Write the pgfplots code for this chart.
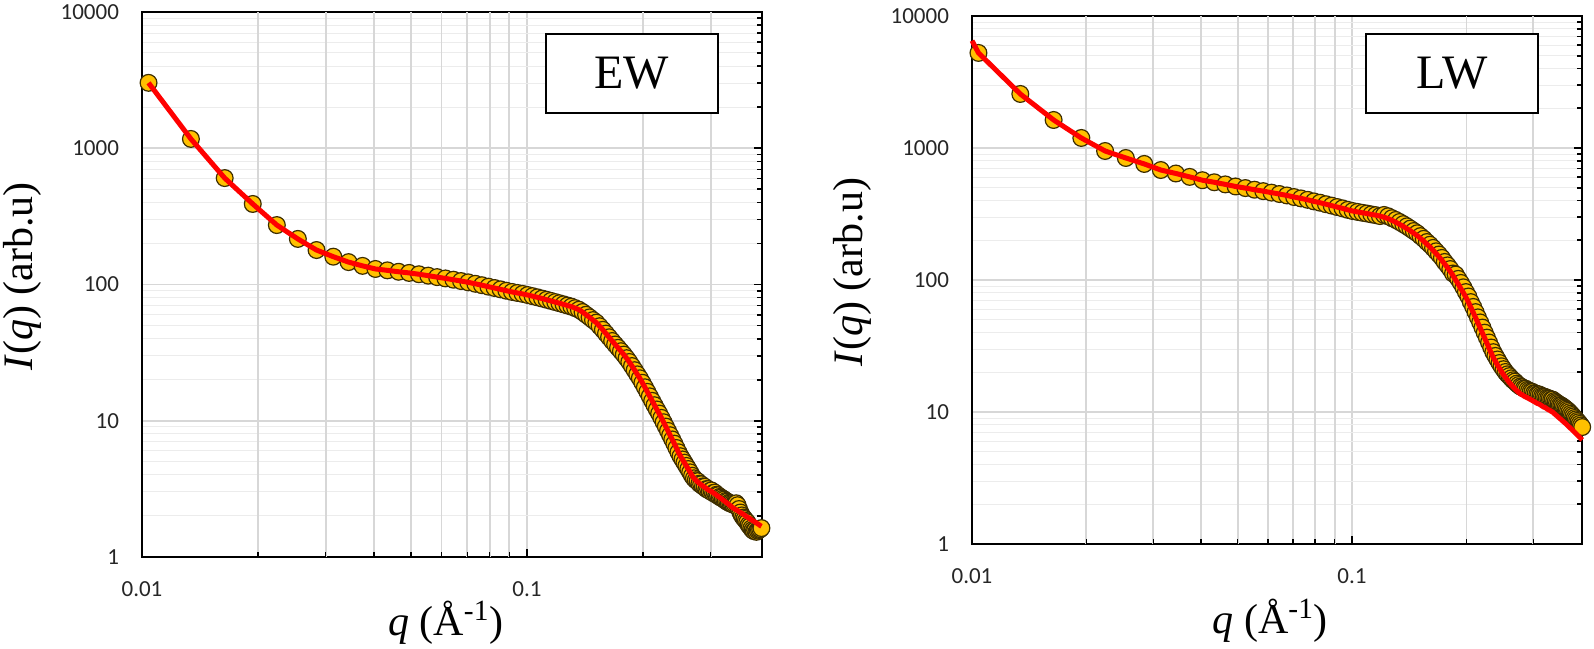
\documentclass[border=0pt]{standalone}
\usepackage{fontspec}
\setmainfont{Liberation Serif}
\newfontfamily\tickfont{Carlito}
\usepackage{pgfplots}
\usepackage{pgfplotstable}
\pgfplotsset{compat=1.18}
\definecolor{gold}{RGB}{255,192,0}
\definecolor{edgec}{RGB}{60,45,0}
\definecolor{gridc}{RGB}{215,215,215}
\definecolor{mgridc}{RGB}{236,236,236}

\pgfplotstableread{
q fit data
0.0104 3020 3020
0.0134 1170 1170
0.0164 604 604
0.0194 390 390
0.0224 273 273
0.0254 216 216
0.0284 179 179
0.0314 160 160
0.0344 146 146
0.0374 137 137
0.0404 130 130
0.0434 127 127
0.0464 124 124
0.0494 121.6 121.6
0.0524 118.9 118.9
0.0554 116.1 116.1
0.0584 113.3 113.3
0.0614 110.8 110.8
0.0644 108.4 108.4
0.0674 106.0 106.0
0.0704 103.7 103.7
0.0734 101.2 101.2
0.0764 98.8 98.8
0.0794 96.4 96.4
0.0824 94.2 94.2
0.0854 92.1 92.1
0.0884 90.0 90.0
0.0914 88.2 88.2
0.0944 86.7 86.7
0.0974 85.3 85.3
0.1004 83.7 83.7
0.1034 82.1 82.1
0.1064 80.5 80.5
0.1094 78.9 78.9
0.1124 77.3 77.3
0.1154 75.8 75.8
0.1184 74.3 74.3
0.1214 72.9 72.9
0.1244 71.5 71.5
0.1274 70.1 70.1
0.1304 68.8 68.8
0.1334 67.1 67.1
0.1364 65.3 65.3
0.1394 62.8 62.8
0.1424 60.0 60.0
0.1454 57.4 57.4
0.1484 54.8 54.8
0.1514 52.5 52.5
0.1544 49.4 49.4
0.1574 46.5 46.5
0.1604 43.6 43.6
0.1634 41.0 41.0
0.1664 38.5 38.5
0.1694 36.3 36.3
0.1724 34.3 34.3
0.1754 32.4 32.4
0.1784 30.6 30.6
0.1814 28.8 28.8
0.1844 27.0 27.0
0.1874 25.2 25.2
0.1904 23.5 23.5
0.1934 21.9 21.9
0.1964 20.5 20.5
0.1994 19.0 19.0
0.2024 17.6 17.6
0.2054 16.3 16.3
0.2084 15.1 15.1
0.2114 14.0 14.0
0.2144 13.0 13.0
0.2174 12.1 12.1
0.2204 11.3 11.3
0.2234 10.5 10.5
0.2264 9.75 9.75
0.2294 9.06 9.06
0.2324 8.42 8.42
0.2354 7.83 7.83
0.2384 7.29 7.29
0.2414 6.79 6.79
0.2444 6.31 6.31
0.2474 5.87 5.87
0.2504 5.49 5.49
0.2534 5.20 5.20
0.2564 4.92 4.92
0.2594 4.66 4.66
0.2624 4.42 4.42
0.2654 4.18 4.18
0.2684 3.95 3.95
0.2714 3.78 3.78
0.2744 3.66 3.66
0.2774 3.56 3.60
0.2804 3.47 3.45
0.2834 3.39 3.42
0.2864 3.32 3.30
0.2894 3.25 3.28
0.2924 3.18 3.15
0.2954 3.12 3.15
0.2984 3.06 3.05
0.3014 3.03 3.08
0.3044 2.96 2.95
0.3074 2.91 2.97
0.3104 2.85 2.86
0.3134 2.79 2.84
0.3164 2.74 2.76
0.3194 2.69 2.73
0.3224 2.63 2.68
0.3254 2.58 2.64
0.3284 2.53 2.58
0.3314 2.48 2.55
0.3344 2.43 2.50
0.3374 2.38 2.48
0.3404 2.33 2.45
0.3434 2.29 2.42
0.3464 2.25 2.44
0.3494 2.22 2.48
0.3524 2.19 2.40
0.3554 2.15 2.25
0.3584 2.12 2.12
0.3614 2.09 2.02
0.3644 2.06 1.95
0.3674 2.03 1.90
0.3704 1.99 1.84
0.3734 1.96 1.80
0.3764 1.94 1.72
0.3794 1.91 1.68
0.3824 1.88 1.62
0.3854 1.85 1.58
0.3884 1.83 1.55
0.3914 1.80 1.57
0.3944 1.78 1.53
0.3974 1.75 1.56
0.4004 1.73 1.58
0.4034 1.70 1.60
0.4064 1.68 1.63
}\ewtable

\pgfplotstableread{
q fit data
0.0100 6500 nan
0.0104 5250 5250
0.0134 2566 2566
0.0164 1630 1630
0.0194 1191 1191
0.0224 949 949
0.0254 840 840
0.0284 757 757
0.0314 681 681
0.0344 641 641
0.0374 604 604
0.0404 570 570
0.0434 550 550
0.0464 530 530
0.0494 511 511
0.0524 497 497
0.0554 483 483
0.0584 471 471
0.0614 459 459
0.0644 448 448
0.0674 437 437
0.0704 425 425
0.0734 415 415
0.0764 405 405
0.0794 394 394
0.0824 385 385
0.0854 375 375
0.0884 366 366
0.0914 357 357
0.0944 349 349
0.0974 340 340
0.1004 333 333
0.1034 328 328
0.1064 323 323
0.1094 319 319
0.1124 314 314
0.1154 310 310
0.1184 305 305
0.1214 299 311
0.1244 292 304
0.1274 283 294
0.1304 274 285
0.1334 264 275
0.1364 255 265
0.1394 245 255
0.1424 236 245
0.1454 226 235
0.1484 217 226
0.1514 207 215
0.1544 197 205
0.1574 187 194
0.1604 178 185
0.1634 168 175
0.1664 159 165
0.1694 150 156
0.1724 141 147
0.1754 132 137
0.1784 124 129
0.1814 116 121
0.1844 108 112
0.1874 100 110
0.1904 93 102
0.1934 86 95
0.1964 80 88
0.1994 74 81
0.2024 68 75
0.2054 62 68
0.2084 56.8 62.5
0.2114 51.9 57.1
0.2144 47.4 52.1
0.2174 43.4 47.7
0.2204 39.6 43.6
0.2234 36.3 39.9
0.2264 33.3 36.6
0.2294 30.5 33.6
0.2324 28.0 30.8
0.2354 25.8 28.4
0.2384 24.2 26.6
0.2414 22.7 25.0
0.2444 21.4 23.5
0.2474 20.2 22.2
0.2504 19.2 21.1
0.2534 18.3 20.1
0.2564 17.5 19.3
0.2594 16.7 18.7
0.2624 16.1 18.0
0.2654 15.5 17.4
0.2684 15.0 17.0
0.2714 14.5 16.4
0.2744 14.1 16.0
0.2774 13.7 15.6
0.2804 13.5 15.4
0.2834 13.2 15.1
0.2864 13.0 15.0
0.2894 12.8 14.7
0.2924 12.6 14.5
0.2954 12.4 14.3
0.2984 12.2 14.2
0.3014 12.0 13.9
0.3044 11.8 13.8
0.3074 11.6 13.6
0.3104 11.5 13.6
0.3134 11.3 13.4
0.3164 11.1 13.2
0.3194 10.9 13.1
0.3224 10.8 13.0
0.3254 10.6 12.8
0.3284 10.4 12.7
0.3314 10.3 12.6
0.3344 10.1 12.4
0.3374 9.98 12.4
0.3404 9.73 12.1
0.3434 9.53 11.9
0.3464 9.33 11.7
0.3494 9.12 11.5
0.3524 8.93 11.3
0.3554 8.75 11.2
0.3584 8.55 11.0
0.3614 8.38 10.8
0.3644 8.20 10.6
0.3674 8.02 10.4
0.3704 7.83 10.2
0.3734 7.67 9.97
0.3764 7.50 9.71
0.3794 7.35 9.48
0.3824 7.18 9.26
0.3854 7.01 9.01
0.3884 6.87 8.79
0.3914 6.71 8.56
0.3944 6.58 8.36
0.3974 6.43 8.13
0.4004 6.28 7.91
0.4034 6.15 7.69
}\lwtable

\begin{document}
\begin{tikzpicture}
\begin{axis}[at={(0,0)}, anchor=south west,
  xmode=log, ymode=log, scale only axis, clip=false, clip marker paths=true,
  width=310pt, height=272.5pt,
  xmin=0.01, xmax=0.4077, ymin=1, ymax=10000,
  xtick={0.01,0.1}, xticklabels={0.01,0.1},
  extra x ticks={0.02,0.03,0.04,0.05,0.06,0.07,0.08,0.09,0.2,0.3},
  extra x tick labels={},
  extra x tick style={grid=major, major tick length=2.5pt},
  ytick={1,10,100,1000,10000}, yticklabels={1,10,100,1000,10000},
  xmajorgrids=true, ymajorgrids=true, yminorgrids=true,
  major grid style={gridc, line width=0.9pt},
  minor grid style={mgridc, line width=0.5pt},
  axis line style={line width=1pt, black},
  tick align=inside,
  xtick pos=left, ytick pos=right, xticklabel pos=left, yticklabel pos=left,
  major tick length=4pt, minor tick length=2.5pt,
  tick style={black, line width=0.8pt},
  tick label style={font=\tickfont\fontsize{11.5}{12}\selectfont, text=black!85},
  xticklabel style={yshift=-9pt},
  yticklabel style={xshift=-8pt},
  label style={font=\fontsize{21}{23}\selectfont},
  xlabel={\textit{q} (Å\textsuperscript{-1})},
  ylabel={\textit{I}(\textit{q}) (arb.u)},
  xlabel style={at={(axis description cs:0.49,-0.12)}, anchor=center},
  ylabel style={at={(axis description cs:-0.193,0.515)}, anchor=center},
]
\addplot[draw=black, line width=0.7pt, mark=*, mark size=4.2pt,
    mark options={fill=gold, draw=edgec, line width=0.6pt}] table[x=q, y=data] {\ewtable};
\addplot[red, line width=2.5pt, no marks] table[x=q, y=fit] {\ewtable};
\node[draw=black, line width=1pt, fill=white, minimum width=86pt, minimum height=39.5pt,
  inner sep=0pt, font=\fontsize{24}{24}\selectfont] at (rel axis cs:0.79,0.887) {EW};
\end{axis}
\begin{axis}[at={(415pt,6.5pt)}, anchor=south west,
  xmode=log, ymode=log, scale only axis, clip=false, clip marker paths=true,
  width=305pt, height=264pt,
  xmin=0.01, xmax=0.4029, ymin=1, ymax=10000,
  xtick={0.01,0.1}, xticklabels={0.01,0.1},
  extra x ticks={0.02,0.03,0.04,0.05,0.06,0.07,0.08,0.09,0.2,0.3},
  extra x tick labels={},
  extra x tick style={grid=major, major tick length=2.5pt},
  ytick={1,10,100,1000,10000}, yticklabels={1,10,100,1000,10000},
  xmajorgrids=true, ymajorgrids=true, yminorgrids=true,
  major grid style={gridc, line width=0.9pt},
  minor grid style={mgridc, line width=0.5pt},
  axis line style={line width=1pt, black},
  tick align=inside,
  xtick pos=left, ytick pos=right, xticklabel pos=left, yticklabel pos=left,
  major tick length=4pt, minor tick length=2.5pt,
  tick style={black, line width=0.8pt},
  tick label style={font=\tickfont\fontsize{11.5}{12}\selectfont, text=black!85},
  xticklabel style={yshift=-9pt},
  yticklabel style={xshift=-8pt},
  label style={font=\fontsize{21}{23}\selectfont},
  xlabel={\textit{q} (Å\textsuperscript{-1})},
  ylabel={\textit{I}(\textit{q}) (arb.u)},
  xlabel style={at={(axis description cs:0.489,-0.146)}, anchor=center},
  ylabel style={at={(axis description cs:-0.196,0.515)}, anchor=center},
]
\addplot[draw=black, line width=0.7pt, mark=*, mark size=4.2pt,
    mark options={fill=gold, draw=edgec, line width=0.6pt}] table[x=q, y=data] {\lwtable};
\addplot[red, line width=2.5pt, no marks] table[x=q, y=fit] {\lwtable};
\node[draw=black, line width=1pt, fill=white, minimum width=86pt, minimum height=39.5pt,
  inner sep=0pt, font=\fontsize{24}{24}\selectfont] at (rel axis cs:0.787,0.891) {LW};
\end{axis}
\pgfresetboundingbox
\path (-71pt,-45.5pt) rectangle (726pt,278.5pt);
\end{tikzpicture}
\end{document}
